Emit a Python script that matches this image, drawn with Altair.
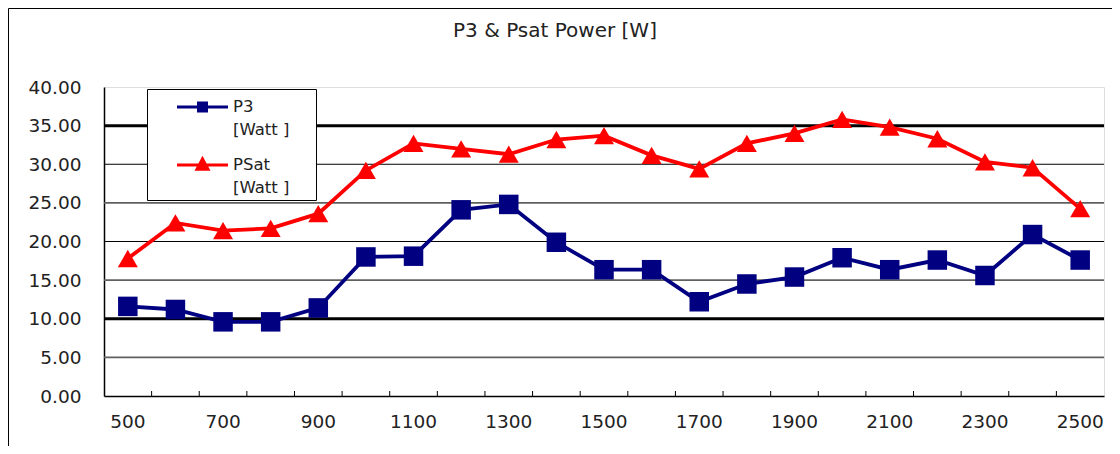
import altair as alt
import pandas as pd

# ---- data ----
freqs = ["500", "600", "700", "800", "900", "1000", "1100", "1200", "1300", "1400", "1500",
         "1600", "1700", "1800", "1900", "2000", "2100", "2200", "2300", "2400", "2500"]
p3 = [11.6, 11.2, 9.6, 9.6, 11.4, 18.0, 18.1, 24.1, 24.8, 19.9, 16.35,
      16.35, 12.2, 14.5, 15.4, 17.9, 16.35, 17.6, 15.6, 20.9, 17.6]
psat = [17.8, 22.4, 21.4, 21.7, 23.6, 29.2, 32.7, 32.0, 31.3, 33.2, 33.7,
        31.15, 29.4, 32.7, 34.0, 35.8, 34.8, 33.3, 30.3, 29.55, 24.25]
series = ["P3", "PSat"]
unit_label = "[Watt ]"
y_ticks = [0, 5, 10, 15, 20, 25, 30, 35, 40]
grid_thick = [10, 35]
grid_thin = [20, 30]
grid_gray = [5, 15, 25]

FONT = "DejaVu Sans"
NAVY = "#000080"
RED = "#FF0000"

df = pd.DataFrame({
    "freq": freqs * 2,
    "series": [series[0]] * len(freqs) + [series[1]] * len(freqs),
    "value": p3 + psat,
})

xscale = alt.Scale(type="band", domain=freqs, paddingInner=0, paddingOuter=0)
yscale = alt.Scale(domain=[0, 40], nice=False, zero=True)

x_axis = alt.Axis(
    title=None, labelAngle=0, ticks=False, tickSize=0, grid=False,
    domain=True, domainColor="black", domainWidth=1.5,
    labelExpr="toNumber(datum.value) % 200 == 100 ? datum.label : ''",
    labelFont=FONT, labelFontSize=18.5, labelColor="#222", labelPadding=16,
)
y_axis = alt.Axis(
    title=None, values=y_ticks, format=".2f", ticks=False, tickSize=0, grid=False,
    domain=True, domainColor="black", domainWidth=1.5,
    labelFont=FONT, labelFontSize=18.5, labelColor="#222", labelPadding=23,
)

X = alt.X("freq:O", scale=xscale, axis=x_axis)
Y = alt.Y("value:Q", scale=yscale, axis=y_axis)

# outer chart frame (decoration)
frame = alt.Chart(pd.DataFrame({"f": [0]})).mark_rect(
    fill="white", fillOpacity=0, stroke="black", strokeWidth=1
).encode(x=alt.value(-95.5), x2=alt.value(3000), y=alt.value(-78.5), y2=alt.value(3000))


def grid_layer(vals, color, width):
    return alt.Chart(pd.DataFrame({"value": vals})).mark_rule(color=color, strokeWidth=width).encode(y=Y)


g_thick = grid_layer(grid_thick, "black", 3)
g_thin = grid_layer(grid_thin, "black", 1)
g_gray = grid_layer(grid_gray, "#606060", 1.6)

ticks = alt.Chart(pd.DataFrame({"freq": freqs[1:]})).mark_rule(color="black", strokeWidth=1).encode(
    x=alt.X("freq:O", scale=xscale, bandPosition=0, axis=x_axis),
    y=alt.value(309), y2=alt.value(304),
)

base = alt.Chart(df)
line_p3 = base.transform_filter(alt.datum.series == series[0]).mark_line(
    color=NAVY, strokeWidth=3.8).encode(x=X, y=Y)
line_ps = base.transform_filter(alt.datum.series == series[1]).mark_line(
    color=RED, strokeWidth=3.8).encode(x=X, y=Y)
pts_p3 = base.transform_filter(alt.datum.series == series[0]).mark_point(
    shape="square", filled=True, size=380, color=NAVY, opacity=1).encode(x=X, y=Y)
pts_ps = base.transform_filter(alt.datum.series == series[1]).mark_point(
    shape="triangle-up", filled=True, size=400, color=RED, opacity=1).encode(x=X, y=Y)

# legend symbols: line + marker (the leading moveTo only widens the legend box)
sq_path = "M7.74,0M-1.889,0H1.889M-0.296,-0.296H0.296V0.296H-0.296Z"
tri_path = "M7.74,0M-1.889,0H1.889M0,-0.444L0.407,0.311H-0.407Z"

leg = alt.Legend(
    orient="none", legendX=43, legendY=2, title=None,
    fillColor="white", strokeColor="black", padding=3,
    symbolSize=729, symbolStrokeWidth=3, symbolOffset=37.5, labelOffset=15.5,
    labelFont=FONT, labelFontSize=16.5, labelColor="#222",
    rowPadding=11,
    labelExpr="[datum.label, '" + unit_label + "']",
)
legend_layer = base.transform_filter("false").mark_point(filled=True, opacity=1).encode(
    shape=alt.Shape("series:N", scale=alt.Scale(domain=series, range=[sq_path, tri_path]), legend=leg),
    fill=alt.Fill("series:N", scale=alt.Scale(domain=series, range=[NAVY, RED]), legend=leg),
    stroke=alt.Stroke("series:N", scale=alt.Scale(domain=series, range=[NAVY, RED]), legend=leg),
)

chart = alt.layer(
    frame, g_gray, g_thin, g_thick, ticks, line_p3, line_ps, pts_p3, pts_ps, legend_layer
).properties(
    width=1000, height=309,
    title=alt.Title("P3 & Psat Power [W]", font=FONT, fontSize=20, fontWeight="normal",
                    color="#222", anchor="middle", dx=-49, offset=-32.5),
    autosize=alt.AutoSizeParams(type="none"),
    padding={"left": 96, "top": 79, "right": 8, "bottom": 50},
).configure_view(
    fill="#C0C0C0", stroke="#808080", strokeWidth=3
).configure(background="white", style={"guide-label": {"lineHeight": 23}})

chart.save("out.html", embed_options={"renderer": "svg", "actions": False})
